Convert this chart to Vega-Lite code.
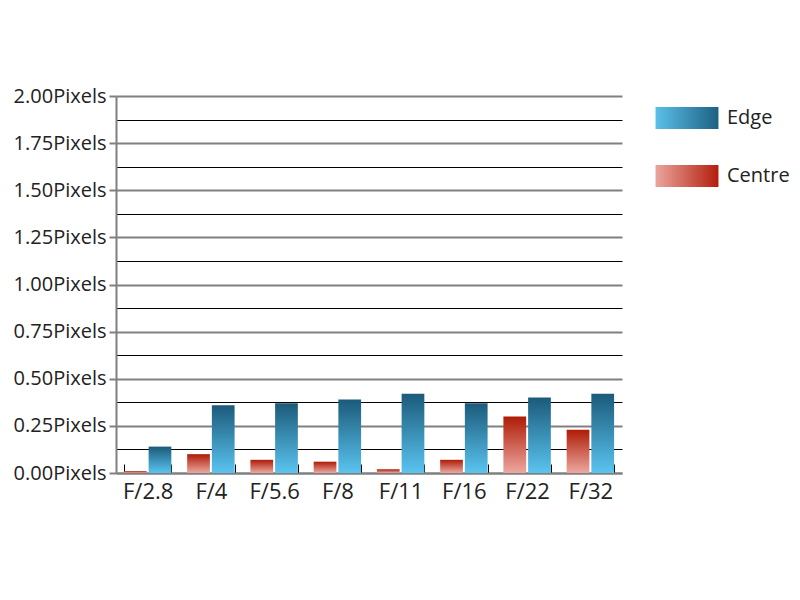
{
  "$schema": "https://vega.github.io/schema/vega-lite/v6.json",
  "width": 506,
  "height": 377,
  "padding": {"left": 13, "top": 86, "right": 5, "bottom": 5},
  "background": "white",
  "config": {"view": {"stroke": null}, "font": "Open Sans"},
  "data": {
    "values": [
      {"aperture": "F/2.8", "series": "Centre", "value": 0.01},
      {"aperture": "F/2.8", "series": "Edge", "value": 0.14},
      {"aperture": "F/4", "series": "Centre", "value": 0.10},
      {"aperture": "F/4", "series": "Edge", "value": 0.36},
      {"aperture": "F/5.6", "series": "Centre", "value": 0.07},
      {"aperture": "F/5.6", "series": "Edge", "value": 0.37},
      {"aperture": "F/8", "series": "Centre", "value": 0.06},
      {"aperture": "F/8", "series": "Edge", "value": 0.39},
      {"aperture": "F/11", "series": "Centre", "value": 0.02},
      {"aperture": "F/11", "series": "Edge", "value": 0.42},
      {"aperture": "F/16", "series": "Centre", "value": 0.07},
      {"aperture": "F/16", "series": "Edge", "value": 0.37},
      {"aperture": "F/22", "series": "Centre", "value": 0.30},
      {"aperture": "F/22", "series": "Edge", "value": 0.40},
      {"aperture": "F/32", "series": "Centre", "value": 0.23},
      {"aperture": "F/32", "series": "Edge", "value": 0.42}
    ]
  },
  "encoding": {
    "x": {
      "field": "aperture",
      "type": "nominal",
      "sort": ["F/2.8", "F/4", "F/5.6", "F/8", "F/11", "F/16", "F/22", "F/32"],
      "scale": {"paddingInner": 0.25, "paddingOuter": 0.125},
      "axis": {
        "title": null,
        "labelAngle": 0,
        "labelFontSize": 22,
        "labelColor": "#222222",
        "domainColor": "#808080",
        "domainWidth": 2,
        "tickBand": "extent",
        "tickColor": "#000000",
        "tickWidth": 1,
        "tickSize": -9,
        "labelPadding": 17
      }
    },
    "xOffset": {
      "field": "series",
      "type": "nominal",
      "sort": ["Centre", "Edge"],
      "scale": {"paddingInner": 0.08, "paddingOuter": 0}
    },
    "y": {
      "field": "value",
      "type": "quantitative",
      "scale": {"domain": [0, 2], "nice": false},
      "axis": {
        "title": null,
        "values": [0, 0.125, 0.25, 0.375, 0.5, 0.625, 0.75, 0.875, 1, 1.125, 1.25, 1.375, 1.5, 1.625, 1.75, 1.875, 2],
        "labelExpr": "datum.value % 0.25 === 0 ? format(datum.value, '.2f') + 'Pixels' : ''",
        "labelFontSize": 20,
        "labelColor": "#222222",
        "labelPadding": 3,
        "domainColor": "#808080",
        "domainWidth": 2,
        "tickSize": 7,
        "tickColor": "#808080",
        "tickWidth": 2,
        "tickOpacity": {"condition": {"test": "datum.value % 0.25 === 0", "value": 1}, "value": 0},
        "grid": true,
        "gridColor": {"condition": {"test": "datum.value % 0.25 === 0", "value": "#808080"}, "value": "#000000"},
        "gridWidth": {"condition": {"test": "datum.value % 0.25 === 0", "value": 2}, "value": 1},
        "gridOpacity": 1
      }
    }
  },
  "layer": [
    {
      "mark": {"type": "bar"},
      "encoding": {
        "fill": {
          "condition": {
            "test": "datum.series === 'Edge'",
            "value": {"gradient": "linear", "x1": 0, "y1": 0, "x2": 0, "y2": 1, "stops": [{"offset": 0, "color": "#1b5a7a"}, {"offset": 1, "color": "#5ac4f0"}]}
          },
          "value": {"gradient": "linear", "x1": 0, "y1": 0, "x2": 0, "y2": 1, "stops": [{"offset": 0, "color": "#ad1b06"}, {"offset": 1, "color": "#eda8a0"}]}
        }
      }
    },
    {
      "transform": [{"filter": "datum.series === 'Edge'"}],
      "mark": {"type": "point", "filled": true, "opacity": 0},
      "encoding": {
        "shape": {
          "field": "series",
          "type": "nominal",
          "scale": {"domain": ["Edge"], "range": ["M-1.43,-0.5L1.43,-0.5L1.43,0.5L-1.43,0.5Z"]},
          "legend": {
            "title": null,
            "orient": "right",
            "offset": 43,
            "padding": 0,
            "symbolSize": 1936,
            "symbolStrokeWidth": 0,
            "symbolOpacity": 1,
            "labelFontSize": 20,
            "labelColor": "#222222",
            "labelOffset": 18
          }
        },
        "color": {"value": {"gradient": "linear", "x1": 0, "y1": 0, "x2": 1, "y2": 0, "stops": [{"offset": 0, "color": "#5bc0ea"}, {"offset": 1, "color": "#1d6182"}]}}
      }
    },
    {
      "transform": [{"filter": "datum.series === 'Centre'"}],
      "mark": {"type": "point", "filled": true, "opacity": 0},
      "encoding": {
        "shape": {
          "field": "series",
          "type": "nominal",
          "scale": {"domain": ["Centre"], "range": ["M-1.43,-0.5L1.43,-0.5L1.43,0.5L-1.43,0.5Z"]},
          "legend": {
            "title": " ",
            "titleFontSize": 9,
            "titlePadding": 8,
            "orient": "right",
            "offset": 43,
            "padding": 0,
            "symbolSize": 1936,
            "symbolStrokeWidth": 0,
            "symbolOpacity": 1,
            "labelFontSize": 20,
            "labelColor": "#222222",
            "labelOffset": 18
          }
        },
        "color": {"value": {"gradient": "linear", "x1": 0, "y1": 0, "x2": 1, "y2": 0, "stops": [{"offset": 0, "color": "#eba59d"}, {"offset": 1, "color": "#b31e0c"}]}}
      }
    }
  ],
  "resolve": {"scale": {"shape": "independent"}, "legend": {"shape": "independent"}}
}
